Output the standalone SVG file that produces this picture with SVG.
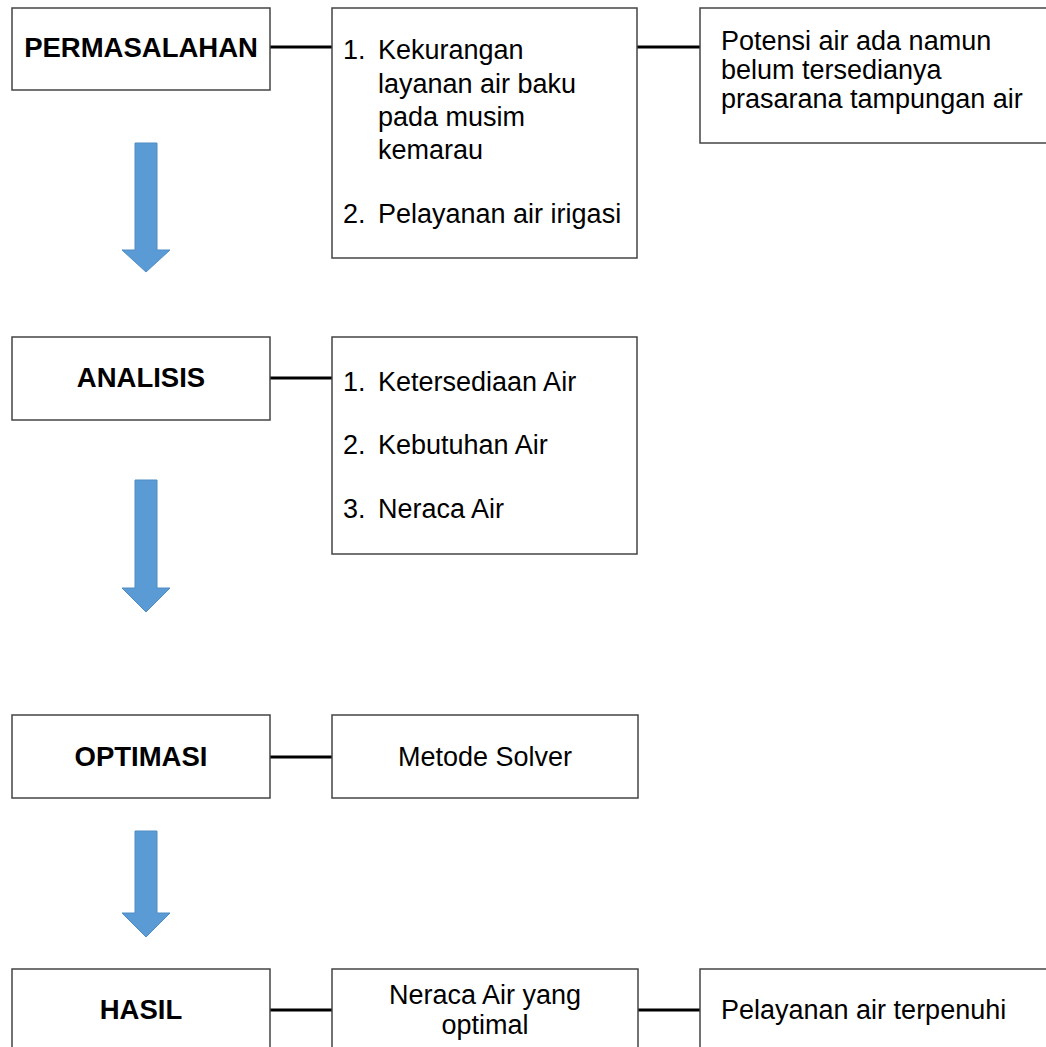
<svg xmlns="http://www.w3.org/2000/svg" width="1046" height="1047" viewBox="0 0 1046 1047">
<style>
.box{fill:#fff;stroke:#444;stroke-width:1.5}
.t{font-family:"Liberation Sans",Arial,sans-serif;font-size:27px;fill:#000}
.b{font-family:"Liberation Sans",Arial,sans-serif;font-size:27.5px;font-weight:bold;fill:#000;text-anchor:middle}
.c{text-anchor:middle}
.ln{stroke:#000;stroke-width:3;fill:none}
.arr{fill:#5B9BD5;stroke:#4F8CC4;stroke-width:1}
</style>
<rect width="1046" height="1047" fill="#fff"/>
<g id="connectors">
<line class="ln" x1="270" y1="47" x2="332" y2="47"/>
<line class="ln" x1="637" y1="47" x2="700" y2="47"/>
<line class="ln" x1="270" y1="378" x2="332" y2="378"/>
<line class="ln" x1="270" y1="757" x2="332" y2="757"/>
<line class="ln" x1="270" y1="1010" x2="332" y2="1010"/>
<line class="ln" x1="638" y1="1010" x2="700" y2="1010"/>
<polygon class="arr" points="135,143 157,143 157,250 170,250 146,272 122,250 135,250"/>
<polygon class="arr" points="135,480 157,480 157,588 170,588 146,612 122,588 135,588"/>
<polygon class="arr" points="135,831 157,831 157,913 170,913 146,937 122,913 135,913"/>
</g>
<g id="permasalahan">
<rect class="box" x="12" y="8" width="258" height="82"/>
<text class="b" x="141" y="57">PERMASALAHAN</text>
</g>
<g id="masalah-list">
<rect class="box" x="332" y="8" width="305" height="250"/>
<text class="t" x="343" y="59">1.</text>
<text class="t" x="378" y="59">Kekurangan</text>
<text class="t" x="378" y="93">layanan air baku</text>
<text class="t" x="378" y="126">pada musim</text>
<text class="t" x="378" y="159">kemarau</text>
<text class="t" x="343" y="223">2.</text>
<text class="t" x="378" y="223">Pelayanan air irigasi</text>
</g>
<g id="potensi">
<rect class="box" x="700" y="8" width="360" height="135"/>
<text class="t" x="721" y="50">Potensi air ada namun</text>
<text class="t" x="721" y="79">belum tersedianya</text>
<text class="t" x="721" y="108">prasarana tampungan air</text>
</g>
<g id="analisis">
<rect class="box" x="12" y="337" width="258" height="83"/>
<text class="b" x="141" y="387">ANALISIS</text>
</g>
<g id="analisis-list">
<rect class="box" x="332" y="337" width="305" height="217"/>
<text class="t" x="343" y="391">1.</text>
<text class="t" x="378" y="391">Ketersediaan Air</text>
<text class="t" x="343" y="454">2.</text>
<text class="t" x="378" y="454">Kebutuhan Air</text>
<text class="t" x="343" y="518">3.</text>
<text class="t" x="378" y="518">Neraca Air</text>
</g>
<g id="optimasi">
<rect class="box" x="12" y="715" width="258" height="83"/>
<text class="b" x="141" y="766">OPTIMASI</text>
</g>
<g id="solver">
<rect class="box" x="332" y="715" width="306" height="83"/>
<text class="t c" x="485" y="766">Metode Solver</text>
</g>
<g id="hasil">
<rect class="box" x="12" y="969" width="258" height="100"/>
<text class="b" x="141" y="1019">HASIL</text>
</g>
<g id="neraca">
<rect class="box" x="332" y="969" width="306" height="100"/>
<text class="t c" x="485" y="1004">Neraca Air yang</text>
<text class="t c" x="485" y="1034">optimal</text>
</g>
<g id="terpenuhi">
<rect class="box" x="700" y="969" width="360" height="100"/>
<text class="t" x="721" y="1019">Pelayanan air terpenuhi</text>
</g>
</svg>
